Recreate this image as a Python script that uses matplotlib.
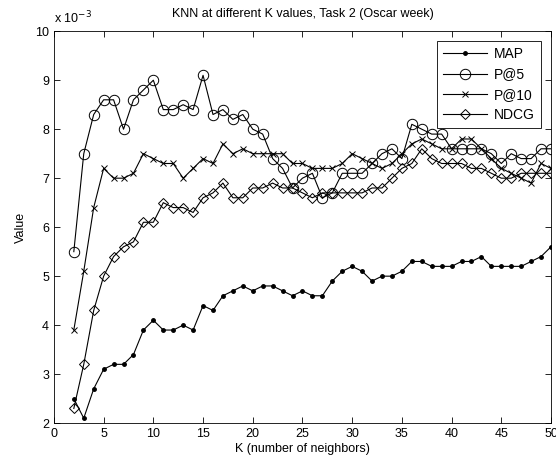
import matplotlib
matplotlib.use('Agg')
import matplotlib.pyplot as plt
import numpy as np

plt.rcParams['font.family'] = ['Liberation Sans', 'DejaVu Sans']

# K values and scores (in units of 1e-3)
k = list(range(2, 51))
map_vals = [2.5, 2.1, 2.7, 3.1, 3.2, 3.2, 3.4, 3.9, 4.1, 3.9, 3.9, 4.0, 3.9, 4.4, 4.3,
            4.6, 4.7, 4.8, 4.7, 4.8, 4.8, 4.7, 4.6, 4.7, 4.6, 4.6, 4.9, 5.1, 5.2, 5.1,
            4.9, 5.0, 5.0, 5.1, 5.3, 5.3, 5.2, 5.2, 5.2, 5.3, 5.3, 5.4, 5.2, 5.2, 5.2,
            5.2, 5.3, 5.4, 5.6]
p5 = [5.5, 7.5, 8.3, 8.6, 8.6, 8.0, 8.6, 8.8, 9.0, 8.4, 8.4, 8.5, 8.4, 9.1, 8.3,
      8.4, 8.2, 8.3, 8.0, 7.9, 7.4, 7.2, 6.8, 7.0, 7.1, 6.6, 6.7, 7.1, 7.1, 7.1,
      7.3, 7.5, 7.6, 7.4, 8.1, 8.0, 7.9, 7.9, 7.6, 7.6, 7.6, 7.6, 7.5, 7.3, 7.5,
      7.4, 7.4, 7.6, 7.6]
p10 = [3.9, 5.1, 6.4, 7.2, 7.0, 7.0, 7.1, 7.5, 7.4, 7.3, 7.3, 7.0, 7.2, 7.4, 7.3,
       7.7, 7.5, 7.6, 7.5, 7.5, 7.5, 7.5, 7.3, 7.3, 7.2, 7.2, 7.2, 7.3, 7.5, 7.4,
       7.3, 7.2, 7.3, 7.5, 7.7, 7.8, 7.7, 7.6, 7.6, 7.8, 7.8, 7.6, 7.4, 7.2, 7.1,
       7.0, 6.9, 7.3, 7.2]
ndcg = [2.3, 3.2, 4.3, 5.0, 5.4, 5.6, 5.7, 6.1, 6.1, 6.5, 6.4, 6.4, 6.3, 6.6, 6.7,
        6.9, 6.6, 6.6, 6.8, 6.8, 6.9, 6.8, 6.8, 6.7, 6.6, 6.7, 6.7, 6.7, 6.7, 6.7,
        6.8, 6.8, 7.0, 7.2, 7.3, 7.6, 7.4, 7.3, 7.3, 7.3, 7.2, 7.2, 7.1, 7.0, 7.0,
        7.1, 7.1, 7.1, 7.1]

fig = plt.figure(figsize=(5.56, 4.66), dpi=100)
ax = fig.add_axes([0.097, 0.092, 0.894, 0.841])

lw = 0.8
ax.plot(k, map_vals, color='black', lw=lw, marker='.', ms=5, label='MAP')
ax.plot(k, p5, color='black', lw=lw, marker='o', ms=7.5, mfc='none', mew=0.7, label='P@5')
ax.plot(k, p10, color='black', lw=lw, marker='x', ms=4.5, mew=0.7, label='P@10')
ax.plot(k, ndcg, color='black', lw=lw, marker='D', ms=5.5, mfc='none', mew=0.7, label='NDCG')

ax.set_xlim(0, 50)
ax.set_ylim(2, 10)
ax.set_xticks(np.arange(0, 51, 5))
ax.set_yticks(np.arange(2, 11, 1))
ax.tick_params(direction='in', top=True, right=True, labelsize=9, length=4, width=0.6)
for s in ax.spines.values():
    s.set_linewidth(0.6)

ax.set_xlabel('K (number of neighbors)', fontsize=9, labelpad=2)
ax.set_ylabel('Value', fontsize=9, labelpad=6)
ax.set_title('KNN at different K values, Task 2 (Oscar week)', fontsize=9, pad=10)
ax.text(0.0, 1.012, r'x 10$^{-3}$', transform=ax.transAxes, fontsize=9, ha='left', va='bottom')

leg = ax.legend(loc='upper right', fontsize=10, fancybox=False, edgecolor='black',
                framealpha=1, handlelength=3.2, borderaxespad=0.7, labelspacing=0.45,
                borderpad=0.45, handletextpad=0.5)
leg.get_frame().set_linewidth(0.6)

fig.savefig('out.png', dpi=100)
